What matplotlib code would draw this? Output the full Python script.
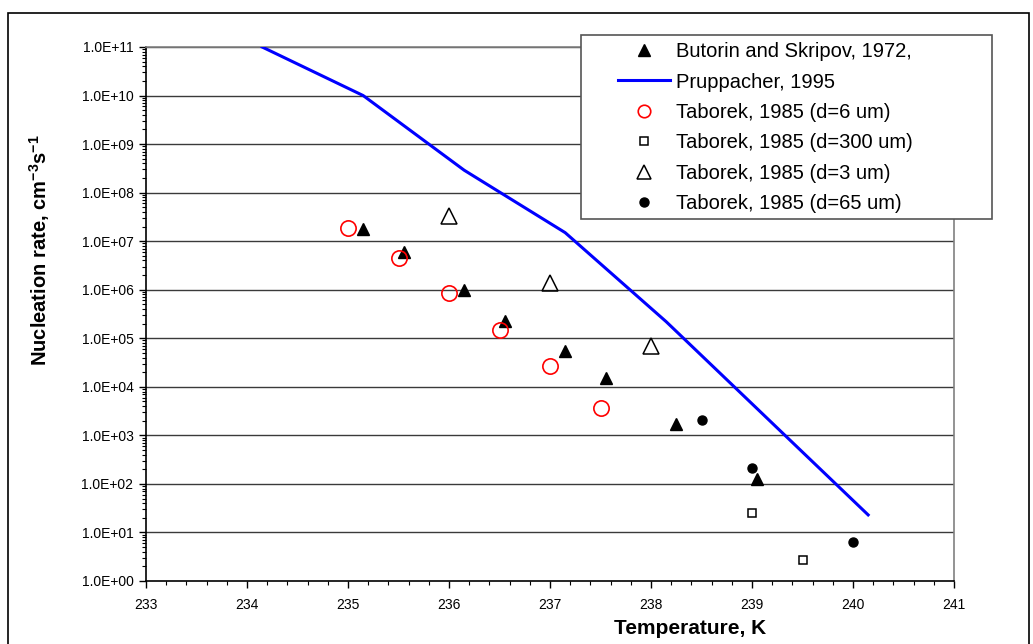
import matplotlib
matplotlib.use("Agg")
import matplotlib.pyplot as plt
from matplotlib.patches import Rectangle
from matplotlib.ticker import LogLocator, MultipleLocator, NullFormatter
from matplotlib.lines import Line2D

plt.rcParams['font.family'] = ['Liberation Sans', 'DejaVu Sans']

# Butorin and Skripov, 1972
butorin_t = [235.15, 235.55, 236.15, 236.55, 237.15, 237.55, 238.25, 239.05]
butorin_j = [1.8e7, 6.0e6, 1.0e6, 2.3e5, 5.5e4, 1.5e4, 1.7e3, 1.26e2]

# Pruppacher, 1995
prupp_t = [234.15, 235.15, 236.15, 237.15, 238.15, 240.15]
prupp_j = [1.0e11, 1.0e10, 2.9e8, 1.5e7, 2.2e5, 2.3e1]

# Taborek, 1985 (d=6 um)
tab6_t = [235.0, 235.5, 236.0, 236.5, 237.0, 237.5]
tab6_j = [1.9e7, 4.6e6, 8.6e5, 1.5e5, 2.7e4, 3.6e3]

# Taborek, 1985 (d=300 um)
tab300_t = [239.0, 239.5]
tab300_j = [25.0, 2.7]

# Taborek, 1985 (d=3 um)
tab3_t = [236.0, 237.0, 238.0]
tab3_j = [3.3e7, 1.4e6, 6.9e4]

# Taborek, 1985 (d=65 um)
tab65_t = [238.5, 239.0, 240.0]
tab65_j = [2.1e3, 2.1e2, 6.4]

ytick_labels = ["1.0E+%02d" % i for i in range(12)]
legend_labels = ['Butorin and Skripov, 1972,', 'Pruppacher, 1995',
                 'Taborek, 1985 (d=6 um)', 'Taborek, 1985 (d=300 um)',
                 'Taborek, 1985 (d=3 um)', 'Taborek, 1985 (d=65 um)']

W, H = 1033, 644
fig = plt.figure(figsize=(W / 100, H / 100), dpi=100)
ax = fig.add_axes([146 / W, 1 - 581 / H, (954 - 146) / W, (581 - 47) / H])

# outer chart frame (runs off the bottom like the original)
fig.patches.append(Rectangle((8 / W, -0.05), (1029 - 8) / W, 1.05 - 13 / H,
                             transform=fig.transFigure, fill=False,
                             edgecolor='black', linewidth=1.2, zorder=0))

ax.set_yscale('log')
ax.set_xlim(233, 241)
ax.set_ylim(1, 1e11)

for yv in [10.0 ** i for i in range(1, 12)]:
    ax.axhline(yv, color='#3a3a3a', linewidth=1.0, zorder=1)

ax.plot(prupp_t, prupp_j, color='#0000ff', linewidth=2.2, zorder=3)
ax.plot(butorin_t, butorin_j, linestyle='none', marker='^', markersize=8.5,
        color='black', zorder=4)
ax.plot(tab6_t, tab6_j, linestyle='none', marker='o', markersize=11,
        markerfacecolor='none', markeredgecolor='red', markeredgewidth=1.2,
        zorder=4)
ax.plot(tab300_t, tab300_j, linestyle='none', marker='s', markersize=5.5,
        markerfacecolor='white', markeredgecolor='black', markeredgewidth=1.1,
        zorder=4)
ax.plot(tab3_t, tab3_j, linestyle='none', marker='^', markersize=12,
        markerfacecolor='none', markeredgecolor='black', markeredgewidth=1.1,
        zorder=4)
ax.plot(tab65_t, tab65_j, linestyle='none', marker='o', markersize=6.5,
        color='black', zorder=4)

ax.set_yticks([10.0 ** i for i in range(12)])
ax.set_yticklabels(ytick_labels)
ax.yaxis.set_minor_locator(LogLocator(base=10, subs=range(2, 10), numticks=100))
ax.yaxis.set_minor_formatter(NullFormatter())
ax.xaxis.set_major_locator(MultipleLocator(1))
ax.xaxis.set_minor_locator(MultipleLocator(0.2))
ax.tick_params(axis='both', which='major', direction='out', length=5,
               width=1, labelsize=10, colors='black')
ax.tick_params(axis='both', which='minor', direction='out', length=3, width=0.8)
ax.tick_params(axis='x', pad=7)
ax.tick_params(axis='y', pad=4)

for s in ['left', 'bottom']:
    ax.spines[s].set_color('black')
    ax.spines[s].set_linewidth(1.2)
for s in ['top', 'right']:
    ax.spines[s].set_color('#808080')
    ax.spines[s].set_linewidth(1.2)

fig.text(690 / W, 1 - 628 / H, 'Temperature, K', ha='center', va='center',
         fontsize=15, fontweight='bold')
fig.text(40 / W, 1 - 250 / H,
         r'Nucleation rate, cm$\mathregular{^{-3}}$s$\mathregular{^{-1}}$',
         ha='center', va='center', rotation=90, fontsize=14.5, fontweight='bold')

# legend box
fig.patches.append(Rectangle((581 / W, 1 - 219 / H), (992 - 581) / W, (219 - 35) / H,
                             transform=fig.transFigure, facecolor='white',
                             edgecolor='#555555', linewidth=1.2, zorder=3))

handles = [
    Line2D([], [], linestyle='none', marker='^', markersize=8.5, color='black'),
    Line2D([], [], color='#0000ff', linewidth=2.2),
    Line2D([], [], linestyle='none', marker='o', markersize=9,
           markerfacecolor='none', markeredgecolor='red', markeredgewidth=1.2),
    Line2D([], [], linestyle='none', marker='s', markersize=5.5,
           markerfacecolor='white', markeredgecolor='black', markeredgewidth=1.1),
    Line2D([], [], linestyle='none', marker='^', markersize=10,
           markerfacecolor='none', markeredgecolor='black', markeredgewidth=1.1),
    Line2D([], [], linestyle='none', marker='o', markersize=6.5, color='black'),
]
leg = fig.legend(handles, legend_labels, loc='upper left',
                 bbox_to_anchor=(614 / W, 1 - 38 / H), bbox_transform=fig.transFigure,
                 fontsize=14.5, frameon=False, handlelength=2.6,
                 handletextpad=0.3, labelspacing=0.57, borderpad=0.2,
                 borderaxespad=0)
leg.set_zorder(5)

fig.savefig('out.png', dpi=100)
